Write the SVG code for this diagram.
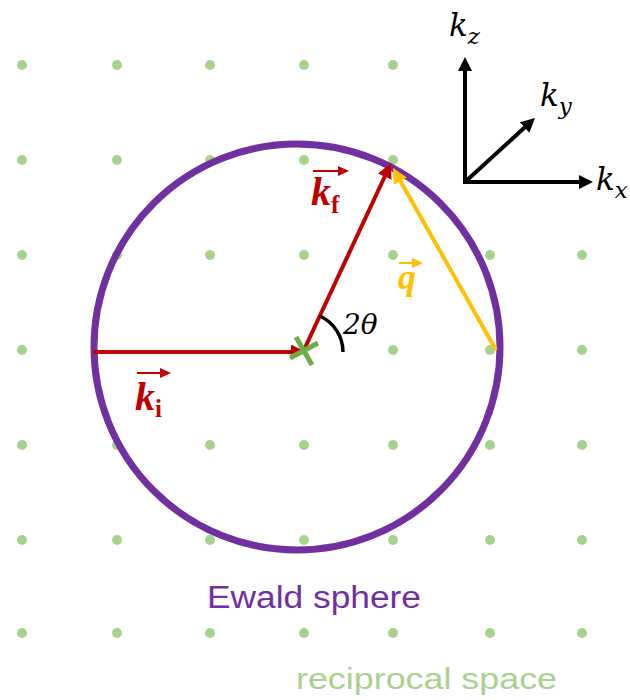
<svg xmlns="http://www.w3.org/2000/svg" width="630" height="700" viewBox="0 0 630 700">
<style>
.dot{fill:#A9D18E}
.ar{fill:none;stroke-width:4}
.math{font-family:"DejaVu Serif","Liberation Serif",serif;font-style:italic}
.lab{font-family:"Liberation Serif","DejaVu Serif",serif;font-weight:bold;font-style:italic}
.sub{font-family:"Liberation Serif","DejaVu Serif",serif;font-weight:bold;font-style:normal}
.sans{font-family:"Liberation Sans",Arial,sans-serif}
</style>
<defs>
<marker id="hr" markerUnits="userSpaceOnUse" markerWidth="17" markerHeight="15" refX="4" refY="7.5" orient="auto"><path d="M0,0 L15,7.5 L0,15 z" fill="#C00000"/></marker>
<marker id="hy" markerUnits="userSpaceOnUse" markerWidth="17" markerHeight="15" refX="4" refY="7.5" orient="auto"><path d="M0,0 L15,7.5 L0,15 z" fill="#FFC000"/></marker>
<marker id="hk" markerUnits="userSpaceOnUse" markerWidth="16" markerHeight="14" refX="4" refY="7" orient="auto"><path d="M0,0 L14,7 L0,14 z" fill="#000"/></marker>
<marker id="ht" markerUnits="userSpaceOnUse" markerWidth="12" markerHeight="10" refX="2" refY="5" orient="auto"><path d="M0,0 L11,5 L0,10 z" fill="#C00000"/></marker>
<marker id="hyt" markerUnits="userSpaceOnUse" markerWidth="12" markerHeight="10" refX="2" refY="5" orient="auto"><path d="M0,0 L11,5 L0,10 z" fill="#FFC000"/></marker>
</defs>
<g id="lattice">
<circle class="dot" cx="22" cy="65" r="5"/><circle class="dot" cx="117" cy="65" r="5"/><circle class="dot" cx="210" cy="65" r="5"/><circle class="dot" cx="304" cy="65" r="5"/><circle class="dot" cx="393" cy="65" r="5"/>
<circle class="dot" cx="22" cy="160" r="5"/><circle class="dot" cx="117" cy="160" r="5"/><circle class="dot" cx="210" cy="160" r="5"/><circle class="dot" cx="304" cy="160" r="5"/><circle class="dot" cx="393" cy="160" r="5"/>
<circle class="dot" cx="22" cy="255" r="5"/><circle class="dot" cx="117" cy="255" r="5"/><circle class="dot" cx="210" cy="255" r="5"/><circle class="dot" cx="304" cy="255" r="5"/><circle class="dot" cx="393" cy="255" r="5"/><circle class="dot" cx="490" cy="255" r="5"/><circle class="dot" cx="582" cy="255" r="5"/>
<circle class="dot" cx="22" cy="350" r="5"/><circle class="dot" cx="393" cy="350" r="5"/><circle class="dot" cx="490" cy="350" r="5"/><circle class="dot" cx="582" cy="350" r="5"/>
<circle class="dot" cx="22" cy="445" r="5"/><circle class="dot" cx="117" cy="445" r="5"/><circle class="dot" cx="210" cy="445" r="5"/><circle class="dot" cx="304" cy="445" r="5"/><circle class="dot" cx="393" cy="445" r="5"/><circle class="dot" cx="490" cy="445" r="5"/><circle class="dot" cx="582" cy="445" r="5"/>
<circle class="dot" cx="22" cy="540" r="5"/><circle class="dot" cx="117" cy="540" r="5"/><circle class="dot" cx="210" cy="540" r="5"/><circle class="dot" cx="304" cy="540" r="5"/><circle class="dot" cx="393" cy="540" r="5"/><circle class="dot" cx="490" cy="540" r="5"/><circle class="dot" cx="582" cy="540" r="5"/>
<circle class="dot" cx="22" cy="633" r="5"/><circle class="dot" cx="117" cy="633" r="5"/><circle class="dot" cx="210" cy="633" r="5"/><circle class="dot" cx="304" cy="633" r="5"/><circle class="dot" cx="393" cy="633" r="5"/><circle class="dot" cx="490" cy="633" r="5"/><circle class="dot" cx="582" cy="633" r="5"/>
</g>
<g id="ewald-sphere">
<circle cx="297" cy="347" r="203" fill="none" stroke="#7030A0" stroke-width="7"/>
</g>
<g id="connectors">
<line class="ar" x1="93" y1="352" x2="295" y2="352" stroke="#C00000" marker-end="url(#hr)"/>
<line class="ar" x1="303" y1="352" x2="386.4" y2="173" stroke="#C00000" marker-end="url(#hr)"/>
<line class="ar" x1="496" y1="350" x2="398.4" y2="177.6" stroke="#FFC000" marker-end="url(#hy)"/>
<path d="M320,316 A40,40 0 0 1 343,352" fill="none" stroke="#000" stroke-width="3.5"/>
</g>
<g id="center-mark">
<line x1="296" y1="337" x2="312" y2="365" stroke="#70AD47" stroke-width="5"/>
<line x1="290" y1="358" x2="318" y2="343" stroke="#70AD47" stroke-width="5"/>
</g>
<g id="axes">
<line x1="465" y1="184" x2="465" y2="67" stroke="#000" stroke-width="4" marker-end="url(#hk)"/>
<line x1="463" y1="182" x2="583" y2="182" stroke="#000" stroke-width="4" marker-end="url(#hk)"/>
<line x1="465" y1="182" x2="527.6" y2="124.8" stroke="#000" stroke-width="4" marker-end="url(#hk)"/>
<text class="math" x="449" y="36" font-size="31">k<tspan font-size="23" dy="8">z</tspan></text>
<text class="math" x="540" y="106" font-size="31">k<tspan font-size="23" dy="8">y</tspan></text>
<text class="math" x="596" y="190" font-size="31">k<tspan font-size="23" dy="8">x</tspan></text>
</g>
<g id="label-kf">
<line x1="313" y1="171" x2="340" y2="171" stroke="#C00000" stroke-width="2" marker-end="url(#ht)"/>
<text class="lab" x="311" y="205" font-size="40" fill="#C00000">k<tspan class="sub" font-size="25" dy="8">f</tspan></text>
</g>
<g id="label-ki">
<line x1="137" y1="373" x2="162" y2="373" stroke="#C00000" stroke-width="2" marker-end="url(#ht)"/>
<text class="lab" x="135" y="410" font-size="40" fill="#C00000">k<tspan class="sub" font-size="25" dy="7">i</tspan></text>
</g>
<g id="label-q">
<line x1="399" y1="263" x2="414" y2="263" stroke="#FFC000" stroke-width="2" marker-end="url(#hyt)"/>
<text class="lab" x="398" y="289" font-size="36" fill="#FFC000">q</text>
</g>
<g id="label-angle">
<text class="math" x="343" y="334" font-size="28" font-style="normal">2<tspan font-style="italic">θ</tspan></text>
</g>
<g id="captions">
<text class="sans" x="207" y="608" font-size="31" fill="#7030A0" textLength="214" lengthAdjust="spacingAndGlyphs">Ewald sphere</text>
<text class="sans" x="296" y="689" font-size="30" fill="#A9D18E" textLength="261" lengthAdjust="spacingAndGlyphs">reciprocal space</text>
</g>
</svg>
